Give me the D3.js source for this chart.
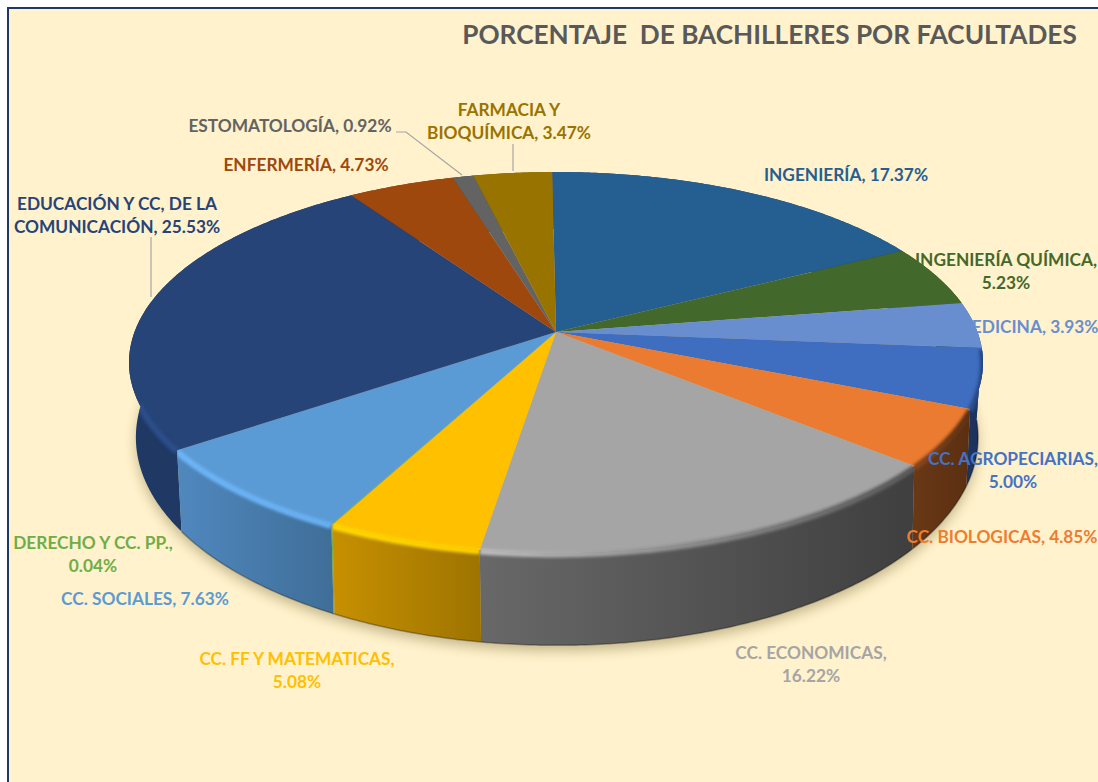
<!DOCTYPE html>
<html><head><meta charset="utf-8">
<script src="https://cdn.jsdelivr.net/npm/d3@7"></script>
<style>html,body{margin:0;padding:0;background:#fff;overflow:hidden}svg{display:block}text{font-family:Lato,"Open Sans",sans-serif;font-weight:700}</style>
</head><body><svg id="c" width="1098" height="782"></svg>
<script>
const chartTitle = "PORCENTAJE  DE BACHILLERES POR FACULTADES";
const categories = ["INGENIERÍA","INGENIERÍA QUÍMICA","MEDICINA","CC. AGROPECIARIAS","CC. BIOLOGICAS","CC. ECONOMICAS","CC. FF Y MATEMATICAS","DERECHO Y CC. PP.","CC. SOCIALES","EDUCACIÓN Y CC, DE LA COMUNICACIÓN","ENFERMERÍA","ESTOMATOLOGÍA","FARMACIA Y BIOQUÍMICA"];
const values = [17.37,5.23,3.93,5.00,4.85,16.22,5.08,0.04,7.63,25.53,4.73,0.92,3.47];
const topColors = ["#255E91","#43682B","#698ED0","#3F6DBF","#EB7B30","#A5A5A5","#FFC000","#70AD47","#5B9BD5","#264478","#9E480E","#636363","#997300"];
const textColors = ["#255E91","#43682B","#698ED0","#4472C4","#ED7D31","#A5A5A5","#FFC000","#70AD47","#5B9BD5","#264478","#9E480E","#636363","#997300"];
const wallStart = ["#1B466C","#324E20","#4E6A9C","#1E3560","#6A3815","#686868","#C79000","#70AD47","#5088BE","#1F3864","#6F320A","#444444","#6B5000"];
const wallEnd = ["#1B466C","#324E20","#2A4570","#1B2F58","#5A2F12","#3F3F3F","#9E7400","#70AD47","#3F6E98","#1F3864","#6F320A","#444444","#6B5000"];
const bevelStart = ["#255E91","#43682B","#5A7DBB","#2D528F","#8A4A20","#BDBDBD","#FFD800","#70AD47","#6DB5F8","#2B4E8A","#9E480E","#636363","#997300"];
const bevelEnd = ["#255E91","#43682B","#3A5A94","#24457F","#5E3112","#5A5A5A","#FFD000","#70AD47","#68B0F4","#2B4E8A","#9E480E","#636363","#997300"];
const labelLines = [["INGENIERÍA, 17.37%"],["INGENIERÍA QUÍMICA,","5.23%"],["MEDICINA, 3.93%"],["CC. AGROPECIARIAS,","5.00%"],["CC. BIOLOGICAS, 4.85%"],["CC. ECONOMICAS,","16.22%"],["CC. FF Y MATEMATICAS,","5.08%"],["DERECHO Y CC. PP.,","0.04%"],["CC. SOCIALES, 7.63%"],["EDUCACIÓN Y CC, DE LA","COMUNICACIÓN, 25.53%"],["ENFERMERÍA, 4.73%"],["ESTOMATOLOGÍA, 0.92%"],["FARMACIA Y","BIOQUÍMICA, 3.47%"]];

// layout (kept apart from the data)
const labelX = [846,1006,1027,1013,1002,811,297,93,145,117,306,290,509];
const labelY = [175,260,327,459,537,653,659,543,599,204,165,126,110];
const lineGap = 22.3, fontSize = 17.3;
const leaders = [[[151,237],[151,297]],[[396,132],[406,132],[462,175]],[[513,144],[513,171]]];
const tilt = -0.6 * Math.PI / 180;

const svg = d3.select("#c");
const defs = svg.append("defs");
const blur = (id,s)=>defs.append("filter").attr("id",id).attr("x","-20%").attr("y","-20%").attr("width","140%").attr("height","140%").append("feGaussianBlur").attr("stdDeviation",s);
blur("b1",1.4); blur("b2",6);

svg.append("rect").attr("x",8).attr("y",8).attr("width",1200).attr("height",900).attr("fill","#FFF2CC").attr("stroke","#1F3864").attr("stroke-width",2);

const topPlane = {x0:556, y0:332, a:421.5, b:185.6, k:0.16};
const botPlane = {x0:557, y0:402, a:415, b:202, k:0.17};
const project = (p,ang0)=>{
  const ang=ang0+tilt, u=Math.sin(ang), v=-Math.cos(ang), w=1-p.k*v;
  return [p.x0+p.a*u/w, p.y0+p.b*v/w];
};
const arcPts = (p,a0,a1)=>{
  const n=Math.max(2,Math.ceil(Math.abs(a1-a0)/0.01));
  return d3.range(n+1).map(i=>project(p,a0+(a1-a0)*i/n));
};
const line = d3.line();
const pie = d3.pie().sort(null).value(d=>d)(values).map((d,i)=>({...d,i}));

// ground shadow
const fullBot = arcPts(botPlane,0,2*Math.PI).map(([x,y])=>[x,y+6]);
svg.append("path").attr("d",line(fullBot)+"Z").attr("fill","#7d6c3a").attr("opacity",.42).attr("filter","url(#b2)");

// walls, back to front
const depth = d=>-Math.cos((d.startAngle+d.endAngle)/2);
const ordered = pie.slice().sort((a,b)=>depth(a)-depth(b));
const grad = (id,x0,x1,c0,c1)=>{
  const g=defs.append("linearGradient").attr("id",id).attr("gradientUnits","userSpaceOnUse").attr("x1",Math.min(x0,x1)).attr("x2",Math.max(x0,x1)).attr("y1",0).attr("y2",0);
  g.append("stop").attr("offset",0).attr("stop-color",c0);
  g.append("stop").attr("offset",1).attr("stop-color",c1);
};
ordered.forEach(d=>{
  const i=d.i, t=arcPts(topPlane,d.startAngle,d.endAngle), b=arcPts(botPlane,d.startAngle,d.endAngle);
  const xs=t.map(p=>p[0]).concat(b.map(p=>p[0]));
  const x0=d3.min(xs), x1=d3.max(xs);
  grad("w"+i,x0,x1,wallStart[i],wallEnd[i]);
  grad("e"+i,x0,x1,bevelStart[i],bevelEnd[i]);
  svg.append("path").attr("class","wall").attr("d",line(t.concat(b.reverse()))+"Z").attr("fill",`url(#w${i})`);
});
// top faces
pie.forEach(d=>{
  const i=d.i, t=arcPts(topPlane,d.startAngle,d.endAngle);
  svg.append("path").attr("class","slice").attr("d",line([[topPlane.x0,topPlane.y0],...t])+"Z").attr("fill",topColors[i]);
});
// bevel along the front rim of every slice
ordered.forEach(d=>{
  const i=d.i, t=arcPts(topPlane,d.startAngle,d.endAngle), b=arcPts(botPlane,d.startAngle,d.endAngle);
  if(d3.max(t,p=>p[1])<topPlane.y0+20) return;
  const clip=defs.append("clipPath").attr("id","k"+i);
  clip.append("path").attr("d",line(t.concat(b.slice().reverse()))+"Z");
  clip.append("path").attr("d",line([[topPlane.x0,topPlane.y0],...t])+"Z");
  svg.append("g").attr("clip-path",`url(#k${i})`).append("path")
    .attr("d",line(t.map(([x,y])=>[x,y+1.5]))).attr("fill","none").attr("stroke",`url(#e${i})`).attr("stroke-width",6).attr("filter","url(#b1)");
});
// dark bottom edge
ordered.filter(d=>depth(d)>0.2).forEach(d=>{
  svg.append("path").attr("d",line(arcPts(botPlane,d.startAngle,d.endAngle))).attr("fill","none").attr("stroke","#000").attr("stroke-opacity",.3).attr("stroke-width",1.5);
});

// leaders
leaders.forEach(l=>svg.append("path").attr("d",line(l)).attr("fill","none").attr("stroke","#A6A6A6").attr("stroke-width",1.2));

// labels
const lab = svg.append("g").selectAll("text").data(pie).join("text")
  .attr("text-anchor","middle").attr("font-size",fontSize).attr("fill",d=>textColors[d.i]);
lab.each(function(d){
  d3.select(this).selectAll("tspan").data(labelLines[d.i]).join("tspan")
    .attr("x",labelX[d.i]).attr("y",(s,j)=>labelY[d.i]+j*lineGap).attr("dy","0.36em").text(s=>s);
});
svg.append("text").attr("x",769.5).attr("y",35).attr("dy","0.36em").attr("text-anchor","middle").attr("font-size",26.2).attr("fill","#595959").style("white-space","pre").text(chartTitle);
</script></body></html>
